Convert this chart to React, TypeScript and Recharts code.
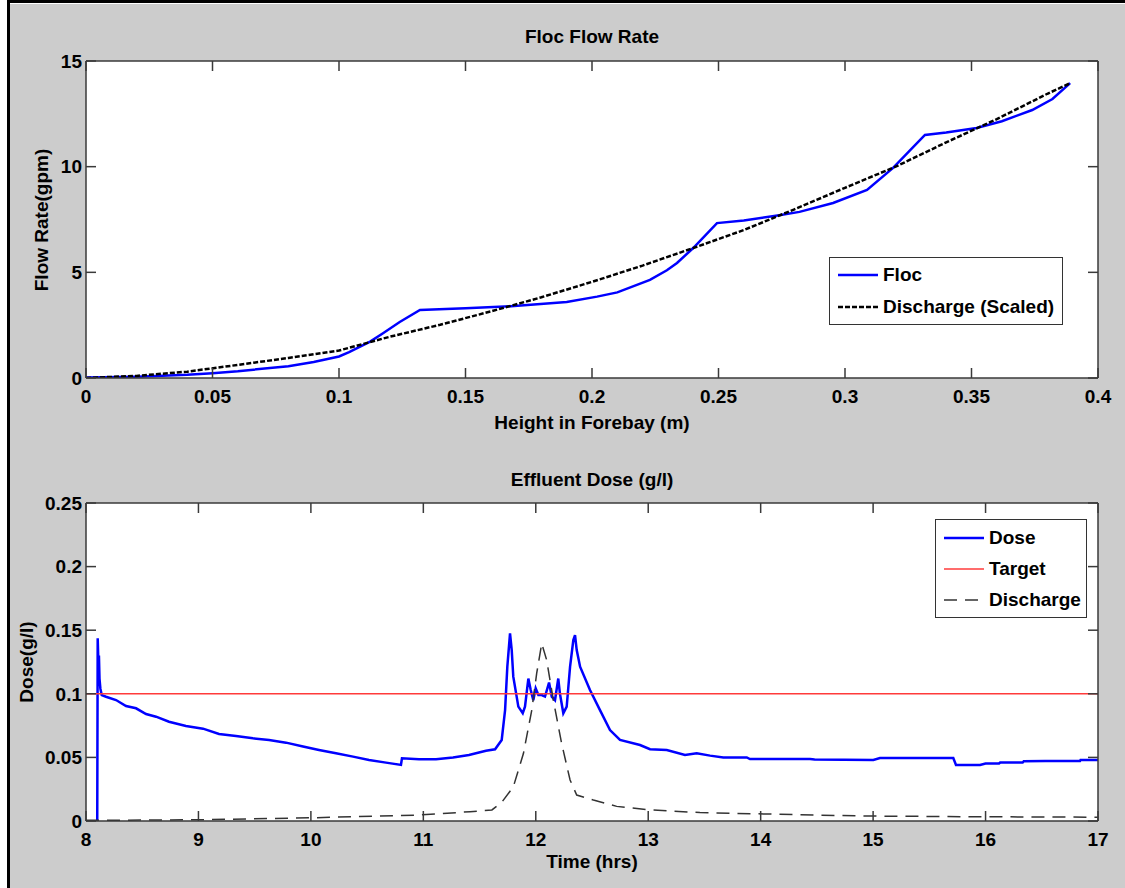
import React from 'react';
import { LineChart, Line, XAxis, YAxis, CartesianGrid, Legend } from 'recharts';

const FONT = '"Liberation Sans", Arial, Helvetica, sans-serif';

// Floc flow rate against height in the forebay
const flocHeight = [0, 0.02, 0.04, 0.05, 0.06, 0.08, 0.09, 0.1, 0.104, 0.1123, 0.1174, 0.124, 0.132, 0.15, 0.168, 0.19, 0.202, 0.21, 0.2229, 0.2296, 0.2336, 0.24, 0.2494, 0.26, 0.274, 0.282, 0.2953, 0.3087, 0.319, 0.3316, 0.34, 0.352, 0.362, 0.374, 0.382, 0.389];
const flocRate = [0.02, 0.06, 0.15, 0.23, 0.32, 0.56, 0.76, 1.02, 1.22, 1.72, 2.12, 2.65, 3.22, 3.3, 3.4, 3.6, 3.85, 4.05, 4.64, 5.1, 5.44, 6.15, 7.33, 7.45, 7.7, 7.86, 8.28, 8.9, 9.94, 11.5, 11.62, 11.83, 12.15, 12.68, 13.2, 13.95];
const dischargeHeight = [0, 0.02, 0.04, 0.06, 0.08, 0.1, 0.12, 0.14, 0.16, 0.18, 0.2, 0.22, 0.24, 0.26, 0.28, 0.3, 0.32, 0.34, 0.36, 0.38, 0.389];
const dischargeRate = [0, 0.1, 0.3, 0.62, 0.95, 1.3, 1.95, 2.52, 3.15, 3.82, 4.55, 5.32, 6.15, 7.0, 7.98, 9.0, 10.0, 11.15, 12.25, 13.45, 13.95];
const heightTicks = [0, 0.05, 0.1, 0.15, 0.2, 0.25, 0.3, 0.35, 0.4];
const rateTicks = [0, 5, 10, 15];

// Effluent dose through the day
const doseTime = [8.1, 8.104, 8.11, 8.115, 8.12, 8.128, 8.14, 8.178, 8.267, 8.356, 8.445, 8.534, 8.623, 8.738, 8.889, 9.041, 9.183, 9.334, 9.485, 9.628, 9.779, 9.93, 10.072, 10.223, 10.375, 10.517, 10.668, 10.801, 10.81, 10.962, 11.113, 11.264, 11.406, 11.557, 11.638, 11.697, 11.727, 11.747, 11.771, 11.786, 11.8, 11.845, 11.884, 11.904, 11.934, 11.955, 11.978, 11.999, 12.023, 12.053, 12.082, 12.118, 12.142, 12.171, 12.2, 12.215, 12.245, 12.275, 12.305, 12.334, 12.349, 12.364, 12.394, 12.482, 12.571, 12.66, 12.749, 12.927, 13.016, 13.165, 13.327, 13.431, 13.55, 13.668, 13.876, 13.905, 14.439, 14.48, 15.002, 15.061, 15.713, 15.737, 15.951, 16.0, 16.12, 16.13, 16.33, 16.34, 16.53, 16.84, 16.845, 17.0];
const doseValue = [0, 0.1436, 0.125, 0.13, 0.112, 0.104, 0.099, 0.0977, 0.0951, 0.0904, 0.0886, 0.0841, 0.082, 0.078, 0.0747, 0.0726, 0.0684, 0.0668, 0.065, 0.0637, 0.0616, 0.0585, 0.0558, 0.0532, 0.0506, 0.048, 0.0459, 0.0441, 0.0493, 0.0485, 0.0485, 0.05, 0.0519, 0.0552, 0.0564, 0.0637, 0.0872, 0.1213, 0.1475, 0.1344, 0.1135, 0.0899, 0.0847, 0.0899, 0.112, 0.103, 0.095, 0.1043, 0.099, 0.099, 0.0978, 0.1088, 0.0978, 0.095, 0.112, 0.1, 0.0847, 0.0899, 0.1213, 0.1423, 0.1462, 0.1344, 0.1213, 0.103, 0.0872, 0.0715, 0.0637, 0.0597, 0.0564, 0.0558, 0.0519, 0.0532, 0.0514, 0.05, 0.05, 0.0487, 0.0487, 0.0484, 0.048, 0.0495, 0.0495, 0.0441, 0.0441, 0.0452, 0.0452, 0.046, 0.046, 0.047, 0.0472, 0.0472, 0.048, 0.048];
const targetTime = [8, 17];
const targetValue = [0.1, 0.1];
const effluentTime = [8.0, 9.0, 10.0, 10.96, 11.415, 11.61, 11.7, 11.8, 11.89, 11.964, 12.008, 12.053, 12.097, 12.156, 12.23, 12.305, 12.364, 12.512, 12.72, 13.016, 13.46, 14.05, 14.94, 15.83, 16.95, 17.0];
const effluentDischarge = [0.0005, 0.001, 0.0025, 0.0047, 0.0073, 0.0087, 0.015, 0.0268, 0.053, 0.087, 0.116, 0.1396, 0.1265, 0.095, 0.061, 0.0322, 0.0204, 0.0165, 0.0115, 0.0087, 0.0066, 0.0055, 0.0039, 0.0034, 0.003, 0.003];
const timeTicks = [8, 9, 10, 11, 12, 13, 14, 15, 16, 17];
const doseTicks = [0, 0.05, 0.1, 0.15, 0.2, 0.25];

const zip = (xs: number[], ys: number[]) => xs.map((x, i) => ({ x, y: ys[i] }));

const frame = { stroke: '#3a3a3a', strokeWidth: 1.5 };
const tickText = { fontSize: 19, fontWeight: 700, fill: '#000', fontFamily: FONT };
const blank = () => '';

type Key = { stroke: string; width: number; dash?: string };

// legend entries, in plotting order
const flowKeys: Record<string, Key> = {
  Floc: { stroke: '#0000ff', width: 2.5 },
  'Discharge (Scaled)': { stroke: '#000', width: 2.5, dash: '5 2' },
};
const doseKeys: Record<string, Key> = {
  Dose: { stroke: '#0000ff', width: 2.5 },
  Target: { stroke: '#ff3b3b', width: 1.6 },
  Discharge: { stroke: '#333', width: 1.5, dash: '13 8' },
};

function legendBox(keys: Record<string, Key>, rowHeight: number, padTop: number) {
  const order = Object.keys(keys);
  return (props: any) => {
    const items = [...(props.payload || [])].sort((a: any, b: any) => order.indexOf(a.value) - order.indexOf(b.value));
    return (
      <div style={{ border: '1px solid #333', background: '#fff', paddingTop: padTop, paddingBottom: padTop, boxSizing: 'border-box', width: '100%' }}>
        {items.map((entry: any) => {
          const k = keys[entry.value];
          return (
            <div key={entry.value} style={{ display: 'flex', alignItems: 'center', height: rowHeight }}>
              <svg width={48} height={10} style={{ flex: 'none' }}>
                <line x1={8} x2={48} y1={5} y2={5} stroke={k.stroke} strokeWidth={k.width} strokeDasharray={k.dash} />
              </svg>
              <span style={{ marginLeft: 5, font: `bold 19px ${FONT}`, color: '#000', whiteSpace: 'nowrap' }}>{entry.value}</span>
            </div>
          );
        })}
      </div>
    );
  };
}

function Caption({ x, y, text, vertical }: { x: number; y: number; text: string; vertical?: boolean }) {
  return (
    <div style={{
      position: 'absolute', left: x, top: y, whiteSpace: 'nowrap', lineHeight: 1,
      font: `bold 19px ${FONT}`, color: '#000',
      transform: `translate(-50%, -50%)${vertical ? ' rotate(-90deg)' : ''}`,
    }}>{text}</div>
  );
}

function FlowChart() {
  return (
    <LineChart width={1125} height={444} margin={{ top: 60, right: 26, bottom: 36, left: 26 }}>
      <CartesianGrid xAxisId="b" yAxisId="l" horizontal={false} vertical={false} fill="#fff" />
      <XAxis xAxisId="b" dataKey="x" type="number" domain={[0, 0.4]} ticks={heightTicks} allowDataOverflow height={30}
        tickSize={-10} tickMargin={22} axisLine={frame} tickLine={frame} tick={tickText} />
      <XAxis xAxisId="t" orientation="top" dataKey="x" type="number" domain={[0, 0.4]} ticks={heightTicks} allowDataOverflow height={1}
        tickSize={-10} axisLine={frame} tickLine={frame} tickFormatter={blank} />
      <YAxis yAxisId="l" type="number" domain={[0, 15]} ticks={rateTicks} allowDataOverflow width={60}
        tickSize={-10} tickMargin={14} axisLine={frame} tickLine={frame} tick={tickText} />
      <YAxis yAxisId="r" orientation="right" type="number" domain={[0, 15]} ticks={rateTicks} allowDataOverflow width={1}
        tickSize={-10} axisLine={frame} tickLine={frame} tickFormatter={blank} />
      <Line xAxisId="b" yAxisId="l" data={zip(flocHeight, flocRate)} dataKey="y" name="Floc" type="linear"
        stroke="#0000ff" strokeWidth={2.5} dot={false} isAnimationActive={false} />
      <Line xAxisId="b" yAxisId="l" data={zip(dischargeHeight, dischargeRate)} dataKey="y" name="Discharge (Scaled)" type="linear"
        stroke="#000" strokeWidth={2.5} strokeDasharray="5 2" dot={false} isAnimationActive={false} />
      <Legend layout="vertical" align="center" verticalAlign="middle" content={legendBox(flowKeys, 32, 1)}
        wrapperStyle={{ left: 829, top: 257, width: 234 }} />
    </LineChart>
  );
}

function DoseChart() {
  return (
    <LineChart width={1125} height={444} margin={{ top: 58, right: 26, bottom: 37, left: 26 }}>
      <CartesianGrid xAxisId="b" yAxisId="l" horizontal={false} vertical={false} fill="#fff" />
      <XAxis xAxisId="b" dataKey="x" type="number" domain={[8, 17]} ticks={timeTicks} allowDataOverflow height={30}
        tickSize={-10} tickMargin={22} axisLine={frame} tickLine={frame} tick={tickText} />
      <XAxis xAxisId="t" orientation="top" dataKey="x" type="number" domain={[8, 17]} ticks={timeTicks} allowDataOverflow height={1}
        tickSize={-10} axisLine={frame} tickLine={frame} tickFormatter={blank} />
      <YAxis yAxisId="l" type="number" domain={[0, 0.25]} ticks={doseTicks} allowDataOverflow width={60}
        tickSize={-10} tickMargin={14} axisLine={frame} tickLine={frame} tick={tickText} />
      <YAxis yAxisId="r" orientation="right" type="number" domain={[0, 0.25]} ticks={doseTicks} allowDataOverflow width={1}
        tickSize={-10} axisLine={frame} tickLine={frame} tickFormatter={blank} />
      <Line xAxisId="b" yAxisId="l" data={zip(doseTime, doseValue)} dataKey="y" name="Dose" type="linear"
        stroke="#0000ff" strokeWidth={2.5} dot={false} isAnimationActive={false} />
      <Line xAxisId="b" yAxisId="l" data={zip(targetTime, targetValue)} dataKey="y" name="Target" type="linear"
        stroke="#ff3b3b" strokeWidth={1.6} dot={false} isAnimationActive={false} />
      <Line xAxisId="b" yAxisId="l" data={zip(effluentTime, effluentDischarge)} dataKey="y" name="Discharge" type="linear"
        stroke="#333" strokeWidth={1.5} strokeDasharray="13 8" dot={false} isAnimationActive={false} />
      <Legend layout="vertical" align="center" verticalAlign="middle" content={legendBox(doseKeys, 31, 2)}
        wrapperStyle={{ left: 935, top: 75, width: 152 }} />
    </LineChart>
  );
}

export default function App() {
  return (
    <div style={{ position: 'absolute', left: 0, top: 0, width: 1125, height: 888, background: '#fff', overflow: 'hidden' }}>
      <div style={{ position: 'absolute', left: 10, top: 4, right: 0, bottom: 0, background: '#cccccc' }} />
      <div style={{ position: 'absolute', left: 7, top: 0, width: 1118, height: 3, background: '#000' }} />
      <div style={{ position: 'absolute', left: 7, top: 0, width: 3, height: 888, background: '#000' }} />
      <div style={{ position: 'absolute', left: 0, top: 0 }}><FlowChart /></div>
      <div style={{ position: 'absolute', left: 0, top: 444 }}><DoseChart /></div>
      <Caption x={592} y={37} text="Floc Flow Rate" />
      <Caption x={592} y={423} text="Height in Forebay (m)" />
      <Caption x={42} y={220} text="Flow Rate(gpm)" vertical />
      <Caption x={592} y={480} text="Effluent Dose (g/l)" />
      <Caption x={592} y={862} text="Time (hrs)" />
      <Caption x={27} y={662} text="Dose(g/l)" vertical />
    </div>
  );
}
